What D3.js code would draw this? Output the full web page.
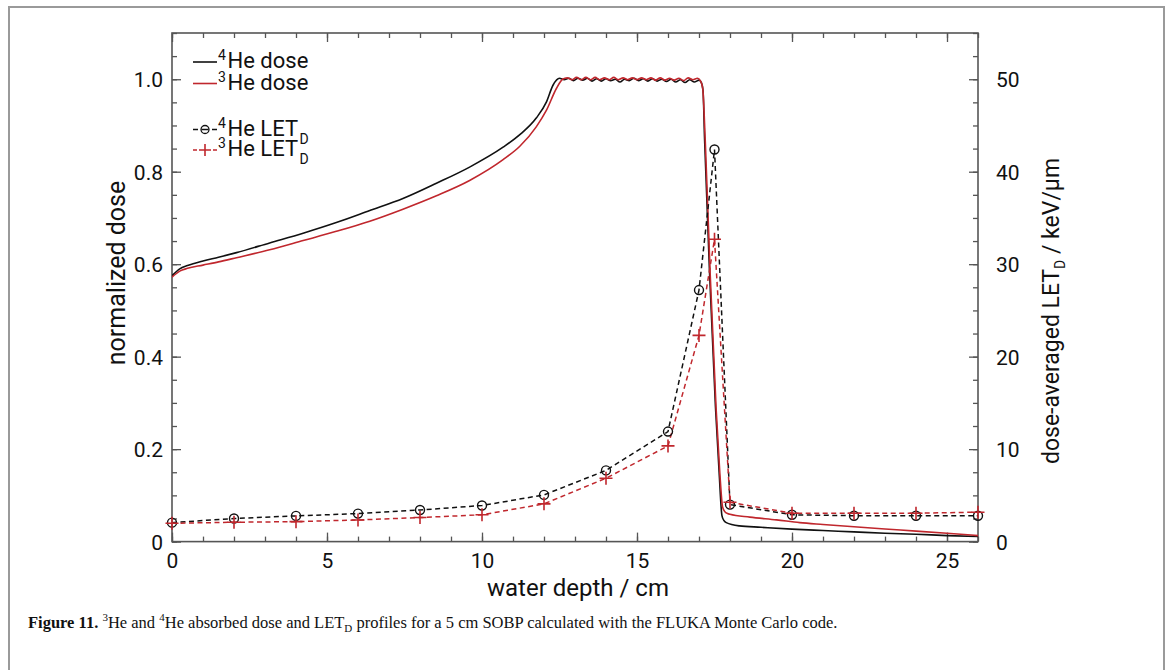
<!DOCTYPE html>
<html><head><meta charset="utf-8">
<script src="https://cdn.jsdelivr.net/npm/d3@7"></script>
<style>
html,body{margin:0;padding:0;background:#fff;}
svg{display:block;}
.lab{font-family:Roboto,"DejaVu Sans",sans-serif;fill:#111;}
.cap{font-family:"Liberation Serif","DejaVu Serif",serif;fill:#111;}
</style></head>
<body><svg id="c" width="1171" height="670"></svg>
<script>
// ---- data ----
const dose4HeDepth = [0,0.25,0.5,1.0,1.5,2.08,3.15,4.23,5.3,6.38,7.45,8.53,9.6,10.68,11.22,11.75,12.08,12.29,12.5,
  12.65,12.8,12.95,13.1,13.25,13.4,13.55,13.7,13.85,14.0,14.15,14.3,14.45,14.6,14.75,14.9,15.05,15.2,15.35,15.5,15.65,15.8,15.95,16.1,16.25,16.4,16.55,16.7,16.85,17.0,
  17.08,17.13,17.18,17.34,17.53,17.65,17.74,17.8,17.88,18.3,19,20,21,22,23,24,25,26];
const dose4He = [0.575,0.590,0.597,0.607,0.615,0.625,0.646,0.667,0.690,0.716,0.742,0.775,0.810,0.853,0.880,0.916,0.951,0.987,1.002,
  0.999,1.002,0.997,1.002,0.998,1.002,0.996,1.001,0.996,1.001,0.997,1.000,0.994,1.000,0.997,1.002,0.997,1.001,0.996,1.001,0.996,1.000,0.995,1.000,0.994,0.999,0.993,0.999,0.994,0.998,
  0.992,0.975,0.870,0.582,0.293,0.149,0.056,0.046,0.041,0.034,0.031,0.027,0.024,0.021,0.018,0.016,0.013,0.011];
const dose3HeDepth = [0,0.25,0.5,1.0,1.5,2.08,3.15,4.23,5.3,6.38,7.45,8.53,9.6,10.68,11.22,11.75,12.08,12.4,12.6,
  12.75,12.9,13.05,13.2,13.35,13.5,13.65,13.8,13.95,14.1,14.25,14.4,14.55,14.7,14.85,15.0,15.15,15.3,15.45,15.6,15.75,15.9,16.05,16.2,16.35,16.5,16.65,16.8,16.95,17.05,
  17.12,17.2,17.36,17.55,17.67,17.76,17.82,17.88,18.0,18.64,19.5,20.25,21,22,23.5,25,26];
const dose3He = [0.572,0.585,0.591,0.598,0.605,0.614,0.631,0.651,0.671,0.693,0.719,0.748,0.781,0.826,0.855,0.897,0.933,0.980,1.000,
  1.003,0.999,1.004,0.999,1.004,0.999,1.004,0.999,1.003,0.999,1.004,0.999,1.003,0.999,1.003,0.999,1.003,0.999,1.003,0.998,1.003,0.998,1.002,0.998,1.002,0.997,1.003,0.999,1.002,0.996,
  0.980,0.870,0.580,0.290,0.150,0.075,0.066,0.062,0.059,0.053,0.047,0.041,0.037,0.032,0.025,0.018,0.013];
const letDepth = [0,2,4,6,8,10,12,14,16,17,17.5,18,20,22,24,26];
const let4He = [2.05,2.5,2.78,3.03,3.42,3.9,5.05,7.7,11.9,27.2,42.4,4.0,2.9,2.8,2.8,2.8];
const let3He = [1.98,2.09,2.16,2.34,2.6,2.9,4.08,6.85,10.35,22.3,32.7,4.25,3.07,3.07,3.07,3.18];
const xTicks = [0,5,10,15,20,25];
const yTicks = [0,0.2,0.4,0.6,0.8,1.0];
const yTickLabels = ["0","0.2","0.4","0.6","0.8","1.0"];
const y2Ticks = [0,10,20,30,40,50];

// ---- layout ----
const svg = d3.select("#c");
const L=172, R=978, T=33, B=541.6;
const RED = "#c0272d";
const x = d3.scaleLinear().domain([0,26]).range([L,R]);
const y = d3.scaleLinear().domain([0,1.1]).range([B,T]);
const y2 = d3.scaleLinear().domain([0,55]).range([B,T]);

// outer frame
svg.append("rect").attr("x",9).attr("y",7).attr("width",1155).attr("height",700)
  .attr("fill","none").attr("stroke","#9a9a9a").attr("stroke-width",2);

const axCol="#555";
function ax(g, axis, dy){ g.call(axis); g.select(".domain").remove(); g.selectAll("line").attr("stroke",axCol).attr("stroke-width",1.3); g.selectAll("text").attr("class","lab").attr("font-size",21).attr("fill","#111").attr("dy",dy||"0.36em"); }

// x axes
const xMinor = d3.range(0,27,1);
svg.append("g").attr("transform",`translate(0,${B})`).call(g=>ax(g,d3.axisBottom(x).tickValues(xMinor).tickSize(-5).tickFormat("")));
svg.append("g").attr("transform",`translate(0,${B})`).call(g=>ax(g,d3.axisBottom(x).tickValues(xTicks).tickSize(-9).tickPadding(11).tickFormat(d3.format("d")),"0.71em"));
svg.append("g").attr("transform",`translate(0,${T})`).call(g=>ax(g,d3.axisTop(x).tickValues(xMinor).tickSize(-5).tickFormat("")));
svg.append("g").attr("transform",`translate(0,${T})`).call(g=>ax(g,d3.axisTop(x).tickValues(xTicks).tickSize(-9).tickFormat("")));
// left y
const yMinor = d3.range(0,1.101,0.05);
svg.append("g").attr("transform",`translate(${L},0)`).call(g=>ax(g,d3.axisLeft(y).tickValues(yMinor).tickSize(-5).tickFormat("")));
svg.append("g").attr("transform",`translate(${L},0)`).call(g=>ax(g,d3.axisLeft(y).tickValues(yTicks).tickSize(-9).tickPadding(9).tickFormat((d,i)=>yTickLabels[i])));
// right y
const y2Minor = d3.range(0,55.01,2.5);
svg.append("g").attr("transform",`translate(${R},0)`).call(g=>ax(g,d3.axisRight(y2).tickValues(y2Minor).tickSize(-5).tickFormat("")));
svg.append("g").attr("transform",`translate(${R},0)`).call(g=>ax(g,d3.axisRight(y2).tickValues(y2Ticks).tickSize(-9).tickPadding(18).tickFormat(d3.format("d"))));

// frame box
svg.append("rect").attr("x",L).attr("y",T).attr("width",R-L).attr("height",B-T)
  .attr("fill","none").attr("stroke",axCol).attr("stroke-width",1.6);

// clip
svg.append("clipPath").attr("id","clp").append("rect").attr("x",L).attr("y",T).attr("width",R-L).attr("height",B-T);
const plot = svg.append("g").attr("clip-path","url(#clp)");

// dose curves
const dl = (xs)=>d3.line().x((d,i)=>x(xs[i])).y(d=>y(d)).curve(d3.curveMonotoneX);
plot.append("path").datum(dose4He).attr("d",dl(dose4HeDepth)).attr("fill","none").attr("stroke","#111").attr("stroke-width",1.6);
plot.append("path").datum(dose3He).attr("d",dl(dose3HeDepth)).attr("fill","none").attr("stroke",RED).attr("stroke-width",1.6);

// LET curves
const ll = d3.line().x((d,i)=>x(letDepth[i])).y(d=>y2(d));
plot.append("path").datum(let4He).attr("d",ll).attr("fill","none").attr("stroke","#111").attr("stroke-width",1.5).attr("stroke-dasharray","5,3.5");
plot.append("path").datum(let3He).attr("d",ll).attr("fill","none").attr("stroke",RED).attr("stroke-width",1.5).attr("stroke-dasharray","5,3.5");
svg.selectAll("circle.m").data(let4He).enter().append("circle").attr("class","m")
  .attr("cx",(d,i)=>x(letDepth[i])).attr("cy",d=>y2(d)).attr("r",4.5).attr("fill","none").attr("stroke","#111").attr("stroke-width",1.4);
svg.selectAll("path.p").data(let3He).enter().append("path").attr("class","p")
  .attr("d",(d,i)=>{const cx=x(letDepth[i]),cy=y2(d),s=6.5;return `M${cx-s},${cy}H${cx+s}M${cx},${cy-s}V${cy+s}`;})
  .attr("fill","none").attr("stroke",RED).attr("stroke-width",1.6);

// legend
const lg = svg.append("g");
function legText(yb, sup, main, sub){
  lg.append("text").attr("class","lab").attr("x",218).attr("y",yb-8).attr("font-size",14).text(sup);
  const t = lg.append("text").attr("class","lab").attr("x",227.5).attr("y",yb).attr("font-size",22).text(main);
  if(sub){
    const w = t.node().getComputedTextLength();
    lg.append("text").attr("class","lab").attr("x",227.5+w+1.5).attr("y",yb+8).attr("font-size",14).text(sub);
  }
}
lg.append("line").attr("x1",193).attr("x2",217).attr("y1",62).attr("y2",62).attr("stroke","#111").attr("stroke-width",1.6);
legText(68,"4","He dose");
lg.append("line").attr("x1",193).attr("x2",217).attr("y1",83.5).attr("y2",83.5).attr("stroke",RED).attr("stroke-width",1.6);
legText(89.5,"3","He dose");
lg.append("path").attr("d","M193,129.5H198M201.5,129.5H208.5M212,129.5H217").attr("stroke","#111").attr("stroke-width",1.5);
lg.append("circle").attr("cx",205).attr("cy",129.5).attr("r",4).attr("fill","none").attr("stroke","#111").attr("stroke-width",1.3);
legText(136,"4","He LET","D");
lg.append("path").attr("d","M193,150H197M213,150H217").attr("stroke",RED).attr("stroke-width",1.5);
lg.append("path").attr("d","M199,150H211M205,144V156").attr("stroke",RED).attr("stroke-width",1.6);
legText(156,"3","He LET","D");

// axis titles
svg.append("text").attr("class","lab").attr("x",(L+R)/2+3).attr("y",596).attr("text-anchor","middle").attr("font-size",24).text("water depth / cm");
svg.append("text").attr("class","lab").attr("transform","translate(125,273) rotate(-90)").attr("text-anchor","middle").attr("font-size",25).text("normalized dose");
const rt = svg.append("text").attr("class","lab").attr("transform","translate(1059,311) rotate(-90)").attr("text-anchor","middle").attr("font-size",23);
rt.append("tspan").text("dose-averaged LET");
rt.append("tspan").attr("font-size",14).attr("dy",6).text("D");
rt.append("tspan").attr("dy",-6).text(" / keV/µm");

// caption
const cp = svg.append("text").attr("class","cap").attr("x",28).attr("y",628).attr("font-size",16.5);
cp.append("tspan").attr("font-weight","bold").text("Figure 11. ");
cp.append("tspan").attr("font-size",11).attr("dy",-7).text("3");
cp.append("tspan").attr("dy",7).text("He and ");
cp.append("tspan").attr("font-size",11).attr("dy",-7).text("4");
cp.append("tspan").attr("dy",7).text("He absorbed dose and LET");
cp.append("tspan").attr("font-size",11).attr("dy",4).text("D");
cp.append("tspan").attr("dy",-4).text(" profiles for a 5 cm SOBP calculated with the FLUKA Monte Carlo code.");
</script></body></html>
